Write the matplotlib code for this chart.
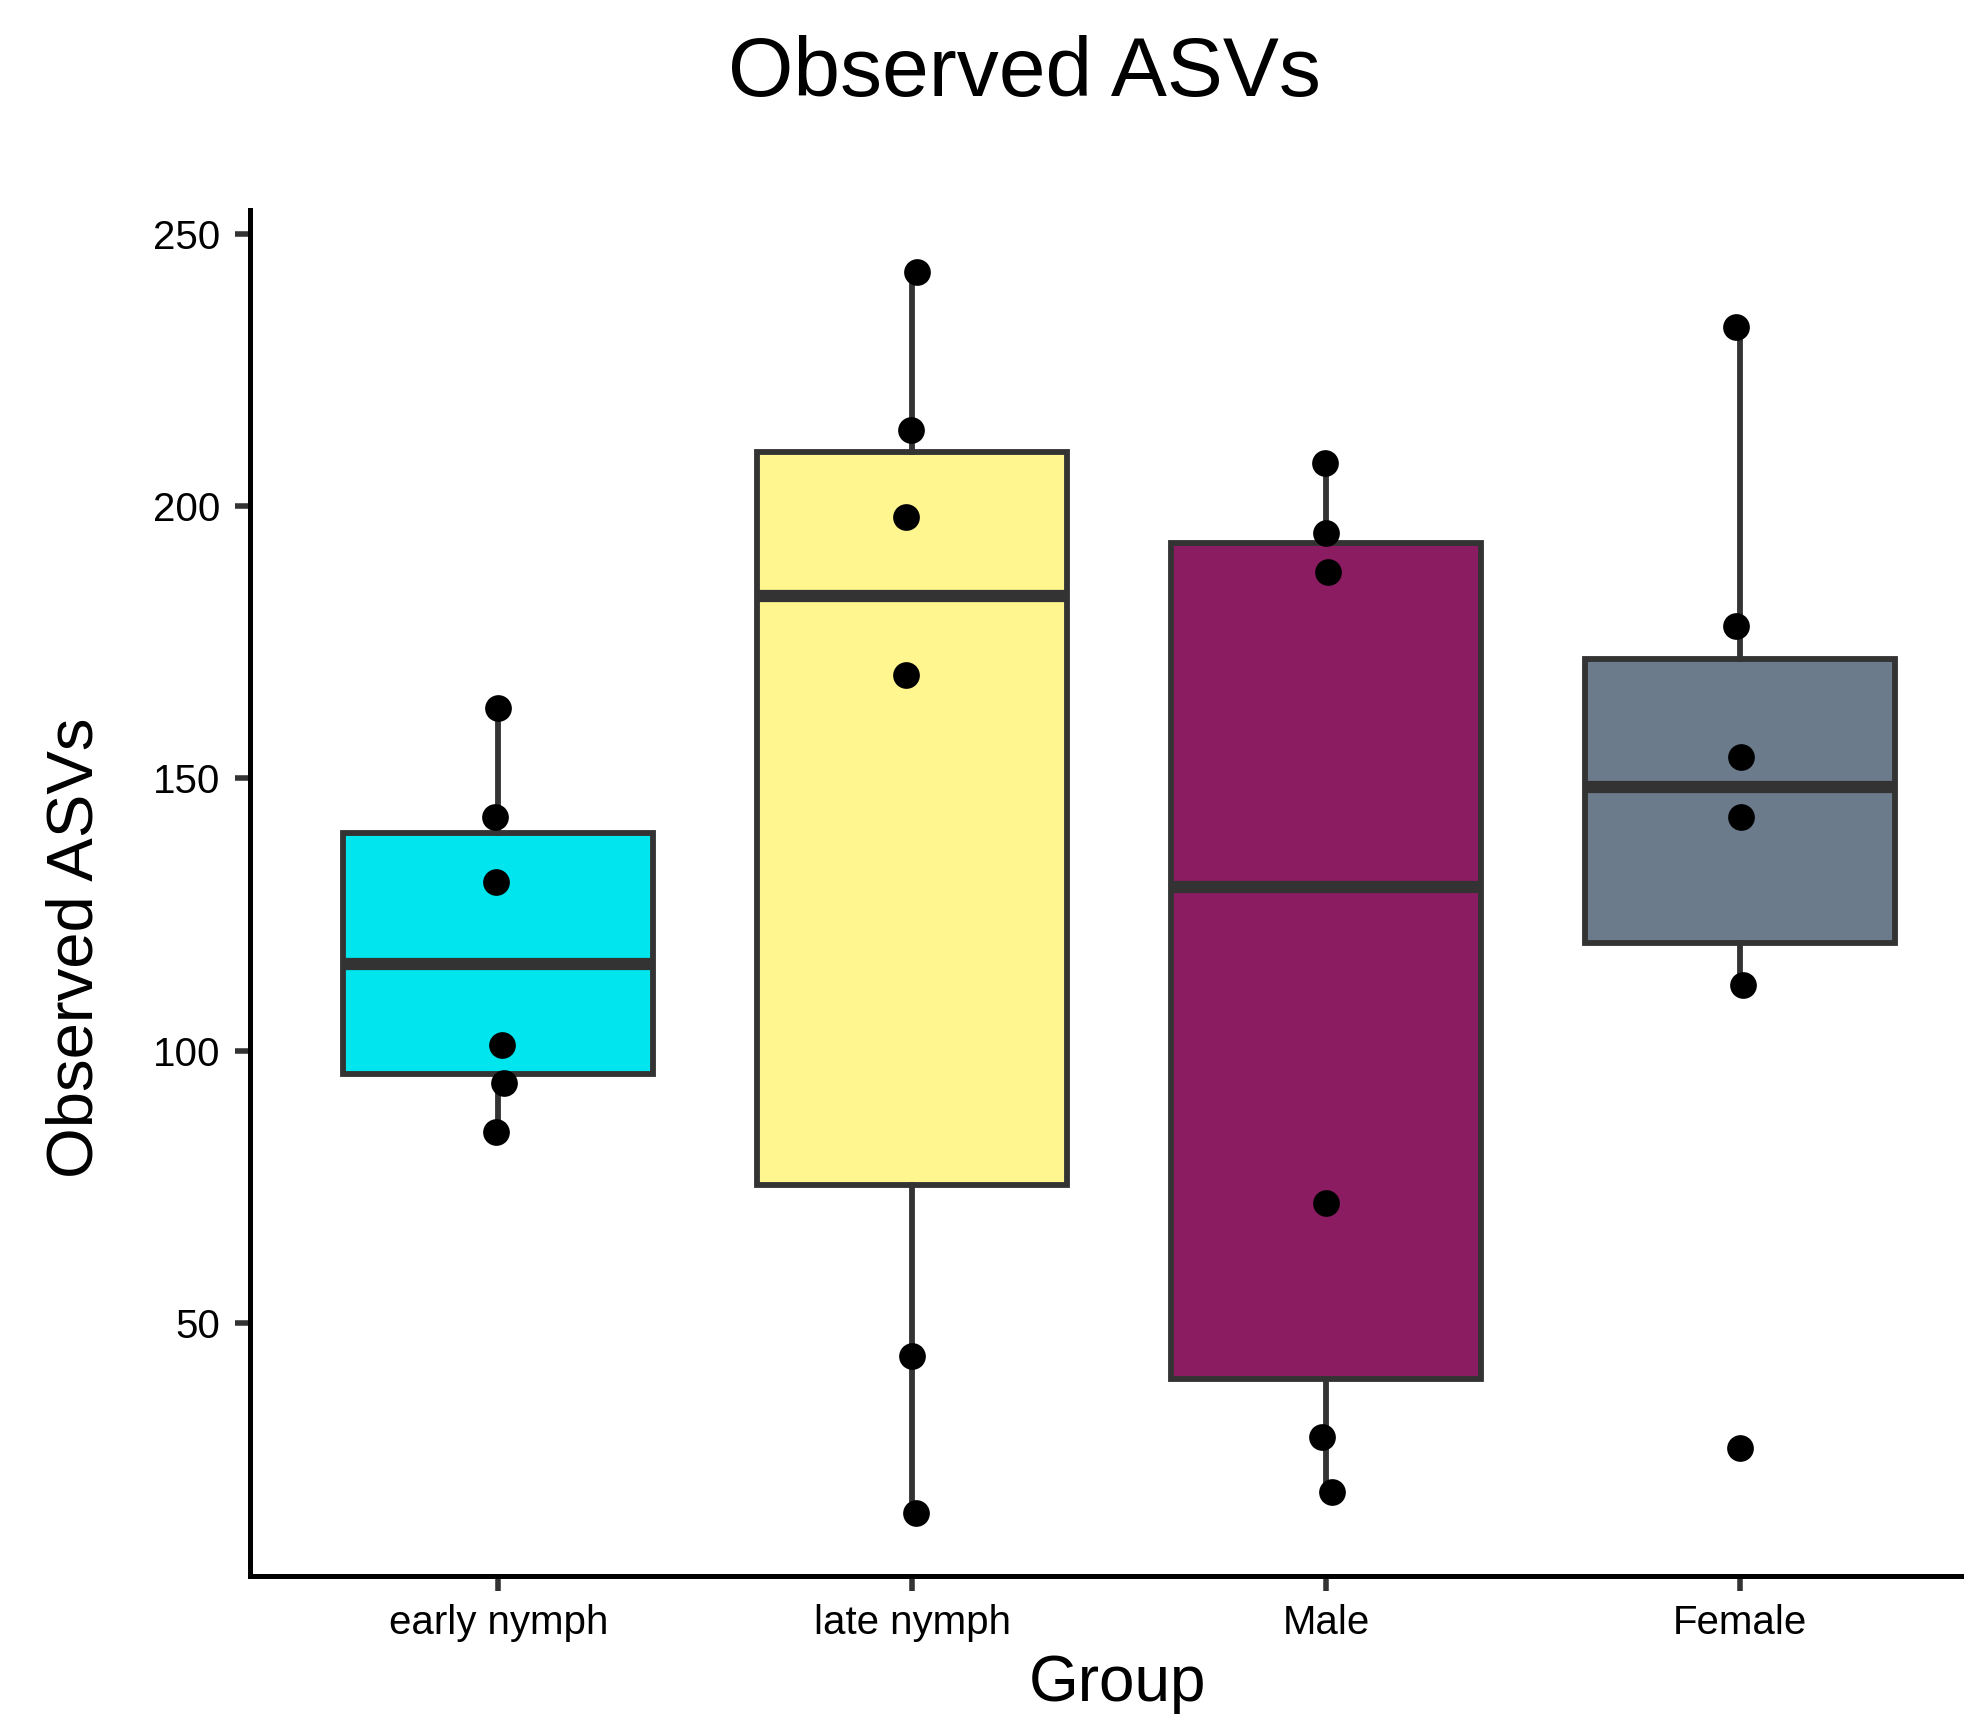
import numpy as np
import matplotlib
matplotlib.use("Agg")
import matplotlib.pyplot as plt

plt.rcParams["font.family"] = ["Liberation Sans", "DejaVu Sans"]

groups = ["early nymph", "late nymph", "Male", "Female"]
early_nymph = [163, 143, 131, 101, 94, 85]
late_nymph = [243, 214, 198, 169, 44, 15]
male = [208, 195, 188, 72, 29, 19]
female = [233, 178, 154, 143, 112, 27]

# horizontal jitter of the points (category units)
early_dx = [0.0, -0.009, -0.006, 0.009, 0.015, -0.006]
late_dx = [0.012, -0.003, -0.015, -0.015, 0.0, 0.009]
male_dx = [-0.003, 0.0, 0.006, 0.0, -0.009, 0.015]
female_dx = [-0.009, -0.009, 0.003, 0.003, 0.009, 0.0]

fill_colors = ["#00E5EE", "#FFF68F", "#8B1C62", "#6C7B8B"]

values = [early_nymph, late_nymph, male, female]
jitter = [early_dx, late_dx, male_dx, female_dx]

W, H = 1964, 1719
fig = plt.figure(figsize=(W / 100, H / 100), dpi=100)

# panel runs past the right edge of the picture, as in the reference
left, right, top, bottom = 250, 1988, 210, 1575.5
ax = fig.add_axes([left / W, (H - bottom) / H, (right - left) / W, (bottom - top) / H])

positions = np.arange(1, len(groups) + 1)
edge = "#333333"
bp = ax.boxplot(values, positions=positions, widths=0.75, patch_artist=True,
                showfliers=False, whis=1.5,
                boxprops=dict(edgecolor=edge, linewidth=4.2),
                whiskerprops=dict(color=edge, linewidth=4.2),
                capprops=dict(linewidth=0),
                medianprops=dict(color=edge, linewidth=8.8, solid_capstyle="butt"))
for patch, c in zip(bp["boxes"], fill_colors):
    patch.set_facecolor(c)
for cap in bp["caps"]:
    cap.set_visible(False)

for pos, vals, dx in zip(positions, values, jitter):
    ax.scatter(pos + np.array(dx), vals, s=370, color="black", zorder=5, linewidths=0)

all_vals = np.concatenate(values)
span = all_vals.max() - all_vals.min()
ax.set_ylim(all_vals.min() - 0.05 * span, all_vals.max() + 0.05 * span)
ax.set_xlim(0.4, len(groups) + 0.6)

ax.set_yticks([50, 100, 150, 200, 250])
ax.set_xticks(positions)
ax.set_xticklabels(groups)

for s in ["top", "right"]:
    ax.spines[s].set_visible(False)
for s in ["left", "bottom"]:
    ax.spines[s].set_linewidth(3.6)
    ax.spines[s].set_color("black")
    ax.spines[s].set_capstyle("projecting")

ax.tick_params(axis="both", length=10.8, width=4, color=edge, labelsize=29,
               labelcolor="black")
ax.tick_params(axis="y", pad=10.8)
ax.tick_params(axis="x", pad=10)

fig.text(1024 / W, 1 - 96 / H, "Observed ASVs", ha="center", va="baseline", fontsize=60.5)
fig.text(75.5 / W, 1 - 948 / H, "Observed ASVs", ha="center", va="center",
         rotation=90, fontsize=47)
fig.text(1117 / W, 1 - 1701 / H, "Group", ha="center", va="baseline", fontsize=46)

fig.savefig("out.png", dpi=100)
